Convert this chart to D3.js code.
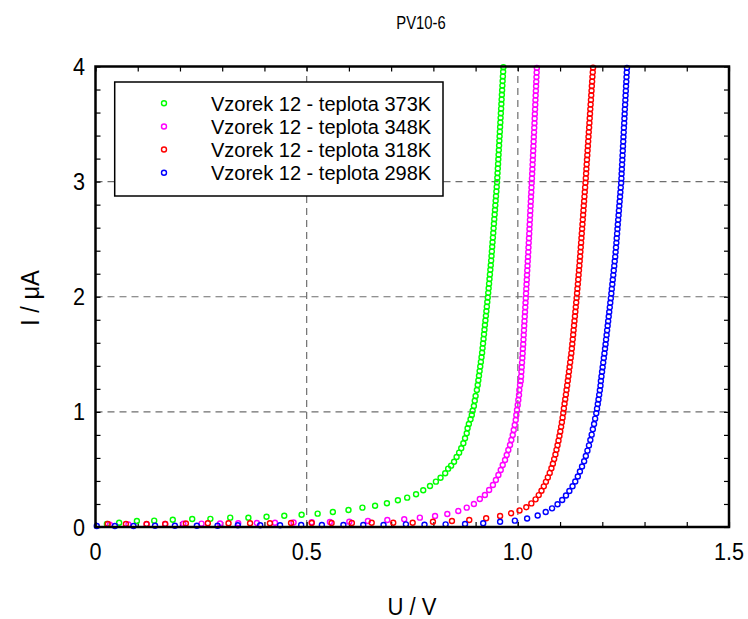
<!DOCTYPE html>
<html>
<head>
<meta charset="utf-8">
<script src="https://cdn.jsdelivr.net/npm/d3@7"></script>
<style>
  body { margin: 0; background: #fff; }
  text { font-family: "Liberation Sans", Arial, Helvetica, sans-serif; fill: #000; }
</style>
</head>
<body>
<svg id="chart" width="748" height="619"></svg>
<script>
// ---- chart text ----
const chartTitle = "PV10-6";
const xLabel = "U / V";
const yLabel = "I / \u03bcA";
const xTickValues = [0, 0.5, 1.0, 1.5];
const xTickLabels = ["0", "0.5", "1.0", "1.5"];
const yTickValues = [0, 1, 2, 3, 4];
const yTickLabels = ["0", "1", "2", "3", "4"];
const xGridValues = [0.5, 1.0];
const yGridValues = [1, 2, 3];
const seriesNames = [
  "Vzorek 12 - teplota 373K",
  "Vzorek 12 - teplota 348K",
  "Vzorek 12 - teplota 318K",
  "Vzorek 12 - teplota 298K"
];
const seriesColors = ["#00ff00", "#ff00ff", "#ff0000", "#0000ff"];

// ---- measured points [U (V), I (uA)] ----
const t373 = [
  [0.027,0.026],[0.056,0.037],[0.098,0.052],[0.139,0.055],[0.183,0.063],[0.229,0.070],[0.272,0.071],
  [0.319,0.081],[0.362,0.080],[0.405,0.089],[0.447,0.098],[0.488,0.107],[0.526,0.116],[0.562,0.130],
  [0.599,0.148],[0.632,0.168],[0.662,0.185],[0.690,0.206],[0.716,0.232],[0.738,0.255],[0.759,0.284],
  [0.776,0.319],[0.792,0.356],[0.806,0.394],[0.817,0.428],[0.828,0.467],[0.835,0.507],[0.842,0.533],
  [0.849,0.567],[0.855,0.608],[0.861,0.646],[0.866,0.684],[0.871,0.727],[0.875,0.771],[0.879,0.814],
  [0.881,0.858],[0.884,0.895],[0.888,0.936],[0.891,0.973],[0.893,1.010],[0.896,1.051],[0.898,1.097],
  [0.900,1.138],[0.903,1.190],[0.905,1.234],
  [0.9065,1.274],[0.908,1.314],[0.9095,1.354],[0.911,1.394],[0.9125,1.434],[0.914,1.474],[0.9154,1.514],
  [0.9165,1.554],[0.9176,1.594],[0.9188,1.634],[0.9199,1.674],[0.921,1.714],[0.9221,1.754],[0.9232,1.794],
  [0.9244,1.834],[0.9255,1.874],[0.9266,1.914],[0.9277,1.954],[0.9288,1.994],[0.9299,2.034],[0.9309,2.074],
  [0.9319,2.114],[0.9329,2.154],[0.9339,2.194],[0.9349,2.234],[0.9359,2.274],[0.9368,2.314],[0.9377,2.354],
  [0.9385,2.394],[0.9393,2.434],[0.9401,2.474],[0.941,2.514],[0.9418,2.554],[0.9426,2.594],[0.9434,2.634],
  [0.9442,2.674],[0.9451,2.714],[0.9459,2.754],[0.9467,2.794],[0.9475,2.834],[0.9483,2.874],[0.9492,2.914],
  [0.950,2.954],[0.9508,2.994],[0.9514,3.034],[0.952,3.074],[0.9526,3.114],[0.9532,3.154],[0.9538,3.194],
  [0.9544,3.234],[0.955,3.274],[0.9556,3.314],[0.9562,3.354],[0.9568,3.394],[0.9574,3.434],[0.958,3.474],
  [0.9586,3.514],[0.9592,3.554],[0.9598,3.594],[0.9604,3.634],[0.961,3.674],[0.9616,3.714],[0.9622,3.754],
  [0.9628,3.794],[0.9634,3.834],[0.964,3.874],[0.9646,3.914],[0.9652,3.954],[0.9658,3.994]
];

const t348 = [
  [0.034,0.020],[0.078,0.022],[0.121,0.024],[0.165,0.026],[0.208,0.028],[0.251,0.029],[0.295,0.031],
  [0.338,0.033],[0.382,0.035],[0.425,0.037],[0.469,0.039],[0.512,0.041],[0.555,0.043],[0.601,0.046],
  [0.645,0.052],[0.691,0.061],[0.731,0.067],[0.768,0.081],[0.804,0.096],[0.833,0.113],[0.859,0.139],
  [0.879,0.168],[0.896,0.200],[0.910,0.243],[0.922,0.278],[0.932,0.321],[0.941,0.365],[0.948,0.408],
  [0.954,0.452],[0.9595,0.495],[0.9642,0.539],[0.9697,0.582],[0.9737,0.626],[0.9775,0.669],[0.9815,0.712],
  [0.9846,0.756],[0.9879,0.799],[0.9903,0.843],[0.9927,0.886],[0.995,0.930],[0.9964,0.973],[0.998,1.016],
  [0.9997,1.060],[1.0012,1.103],[1.0028,1.147],[1.0035,1.190],[1.0052,1.234],[1.0069,1.268],
  [1.0077,1.308],[1.0084,1.348],[1.0092,1.388],[1.0099,1.428],[1.0107,1.468],[1.0114,1.508],[1.012,1.548],
  [1.0127,1.588],[1.0133,1.628],[1.0139,1.668],[1.0145,1.708],[1.0151,1.748],[1.0157,1.788],[1.0164,1.828],
  [1.017,1.868],[1.0176,1.908],[1.0182,1.948],[1.0188,1.988],[1.0194,2.028],[1.020,2.068],[1.0206,2.108],
  [1.0212,2.148],[1.0217,2.188],[1.0223,2.228],[1.0229,2.268],[1.0235,2.308],[1.0241,2.348],[1.0247,2.388],
  [1.0252,2.428],[1.0258,2.468],[1.0264,2.508],[1.027,2.548],[1.0275,2.588],[1.028,2.628],[1.0286,2.668],
  [1.0291,2.708],[1.0296,2.748],[1.0302,2.788],[1.0307,2.828],[1.0312,2.868],[1.0318,2.908],[1.0323,2.948],
  [1.0328,2.988],[1.0334,3.028],[1.0339,3.068],[1.0344,3.108],[1.0349,3.148],[1.0354,3.188],[1.0359,3.228],
  [1.0364,3.268],[1.0369,3.308],[1.0374,3.348],[1.0379,3.388],[1.0384,3.428],[1.0389,3.468],[1.0394,3.508],
  [1.0398,3.548],[1.0403,3.588],[1.0408,3.628],[1.0413,3.668],[1.0417,3.708],[1.0422,3.748],[1.0427,3.788],
  [1.0432,3.828],[1.0436,3.868],[1.0441,3.908],[1.0446,3.948],[1.045,3.988]
];

const t318 = [
  [0.029,0.026],[0.072,0.026],[0.121,0.026],[0.165,0.026],[0.214,0.030],[0.266,0.032],[0.315,0.032],
  [0.366,0.032],[0.413,0.032],[0.463,0.035],[0.512,0.035],[0.559,0.035],[0.607,0.035],[0.654,0.037],
  [0.705,0.037],[0.751,0.037],[0.799,0.046],[0.844,0.052],[0.885,0.061],[0.925,0.076],[0.958,0.096],
  [0.984,0.119],[1.004,0.143],[1.020,0.172],[1.032,0.205],[1.042,0.240],[1.0495,0.277],[1.056,0.315],
  [1.0615,0.353],[1.0665,0.392],[1.071,0.431],[1.0755,0.470],[1.0795,0.510],[1.083,0.550],[1.086,0.590],
  [1.089,0.630],[1.0915,0.670],[1.094,0.710],[1.0963,0.750],[1.0985,0.790],[1.1005,0.830],[1.1025,0.870],
  [1.1043,0.910],[1.106,0.950],[1.1075,0.990],[1.109,1.030],[1.1106,1.070],[1.1122,1.110],[1.1138,1.150],
  [1.1153,1.190],[1.1168,1.230],[1.1183,1.270],[1.1197,1.310],[1.1211,1.350],[1.1225,1.390],[1.1239,1.430],
  [1.1253,1.470],[1.1267,1.510],[1.1279,1.550],[1.1289,1.590],[1.130,1.630],[1.131,1.670],[1.132,1.710],
  [1.1331,1.750],[1.1341,1.790],[1.1352,1.830],[1.1362,1.870],[1.1372,1.910],[1.1382,1.950],[1.1392,1.990],
  [1.1402,2.030],[1.1411,2.070],[1.1421,2.110],[1.143,2.150],[1.1439,2.190],[1.1448,2.230],[1.1457,2.270],
  [1.1466,2.310],[1.1474,2.350],[1.1482,2.390],[1.149,2.430],[1.1498,2.470],[1.1506,2.510],[1.1514,2.550],
  [1.1522,2.590],[1.153,2.630],[1.1538,2.670],[1.1545,2.710],[1.1553,2.750],[1.1561,2.790],[1.1569,2.830],
  [1.1577,2.870],[1.1585,2.910],[1.1593,2.950],[1.1601,2.990],[1.1609,3.030],[1.1616,3.070],[1.1623,3.110],
  [1.163,3.150],[1.1637,3.190],[1.1645,3.230],[1.1652,3.270],[1.1659,3.310],[1.1666,3.350],[1.1673,3.390],
  [1.168,3.430],[1.1688,3.470],[1.1695,3.510],[1.1702,3.550],[1.1709,3.590],[1.1716,3.630],[1.1723,3.670],
  [1.1731,3.710],[1.1738,3.750],[1.1745,3.790],[1.1752,3.830],[1.1759,3.870],[1.1766,3.910],[1.1774,3.950],
  [1.1781,3.990]
];

const t298 = [
  [0.003,0.009],[0.046,0.009],[0.090,0.009],[0.141,0.011],[0.188,0.011],[0.240,0.011],[0.289,0.011],
  [0.337,0.015],[0.390,0.015],[0.437,0.015],[0.487,0.017],[0.536,0.017],[0.587,0.017],[0.634,0.017],
  [0.682,0.017],[0.735,0.023],[0.779,0.020],[0.829,0.023],[0.875,0.026],[0.918,0.032],
  [0.958,0.046],[0.993,0.055],[1.022,0.074],[1.047,0.100],[1.066,0.130],[1.081,0.162],[1.094,0.197],
  [1.105,0.235],[1.114,0.274],[1.122,0.313],[1.1295,0.354],[1.136,0.395],[1.142,0.439],[1.147,0.482],
  [1.152,0.526],[1.157,0.571],[1.161,0.617],[1.1648,0.663],[1.1684,0.709],[1.1717,0.756],[1.1748,0.802],
  [1.1776,0.849],[1.1805,0.895],[1.183,0.941],[1.1857,0.988],
  [1.1875,1.028],[1.1893,1.068],[1.191,1.108],[1.1926,1.148],[1.1942,1.188],[1.1957,1.228],[1.1966,1.268],
  [1.198,1.308],[1.1994,1.348],[1.2008,1.388],[1.2022,1.428],[1.2036,1.468],[1.205,1.508],[1.2064,1.548],
  [1.2077,1.588],[1.2089,1.628],[1.2102,1.668],[1.2114,1.708],[1.2127,1.748],[1.2139,1.788],[1.2152,1.828],
  [1.2164,1.868],[1.2177,1.908],[1.2189,1.948],[1.2202,1.988],[1.2214,2.028],[1.2225,2.068],[1.2237,2.108],
  [1.2248,2.148],[1.226,2.188],[1.2271,2.228],[1.2283,2.268],[1.2294,2.308],[1.2306,2.348],[1.2315,2.388],
  [1.2324,2.428],[1.2333,2.468],[1.2341,2.508],[1.235,2.548],[1.2359,2.588],[1.2367,2.628],[1.2376,2.668],
  [1.2385,2.708],[1.2393,2.748],[1.2402,2.788],[1.2411,2.828],[1.242,2.868],[1.2428,2.908],[1.2437,2.948],
  [1.2446,2.988],[1.2452,3.028],[1.2457,3.068],[1.2463,3.108],[1.2468,3.148],[1.2474,3.188],[1.2479,3.228],
  [1.2485,3.268],[1.249,3.308],[1.2496,3.348],[1.2501,3.388],[1.2507,3.428],[1.2512,3.468],[1.2518,3.508],
  [1.2523,3.548],[1.2529,3.588],[1.2534,3.628],[1.254,3.668],[1.2546,3.708],[1.2551,3.748],[1.2557,3.788],
  [1.2562,3.828],[1.2568,3.868],[1.2573,3.908],[1.2579,3.948],[1.2584,3.988]
];

const seriesData = [t373, t348, t318, t298];

// ---- layout ----
const svg = d3.select("#chart");
const plot = { left: 95.5, right: 729, top: 66.5, bottom: 527 };
const x = d3.scaleLinear().domain([0, 1.5]).range([plot.left, plot.right]);
const y = d3.scaleLinear().domain([0, 4]).range([plot.bottom, plot.top]);

svg.append("rect").attr("width", 748).attr("height", 619).attr("fill", "#fff");

// dashed grid
const grid = svg.append("g")
  .attr("stroke", "#6e6e6e").attr("stroke-width", 1.2).attr("stroke-dasharray", "7,5");
grid.selectAll("line.vx").data(xGridValues).join("line").attr("class", "vx")
  .attr("x1", d => x(d)).attr("x2", d => x(d))
  .attr("y1", plot.bottom).attr("y2", plot.top);
grid.selectAll("line.hy").data(yGridValues).join("line").attr("class", "hy")
  .attr("x1", plot.left).attr("x2", plot.right)
  .attr("y1", d => y(d)).attr("y2", d => y(d));

// inward minor ticks on all four sides
const xMinor = d3.range(0, 16).map(i => i / 10);
const yMinor = d3.range(0, 21).map(i => i / 5);
function tickStyle(g) {
  g.select(".domain").remove();
  g.selectAll(".tick line").attr("stroke", "#000").attr("stroke-width", 1.2);
}
svg.append("g").attr("transform", `translate(0,${plot.bottom})`)
  .call(d3.axisBottom(x).tickValues(xMinor).tickSize(-5).tickFormat("")).call(tickStyle);
svg.append("g").attr("transform", `translate(0,${plot.top})`)
  .call(d3.axisTop(x).tickValues(xMinor).tickSize(-5).tickFormat("")).call(tickStyle);
svg.append("g").attr("transform", `translate(${plot.left},0)`)
  .call(d3.axisLeft(y).tickValues(yMinor).tickSize(-5).tickFormat("")).call(tickStyle);
svg.append("g").attr("transform", `translate(${plot.right},0)`)
  .call(d3.axisRight(y).tickValues(yMinor).tickSize(-5).tickFormat("")).call(tickStyle);

// data markers (open circles), only centres inside the plotted range
seriesData.forEach((pts, i) => {
  svg.append("g")
    .attr("fill", "none").attr("stroke", seriesColors[i]).attr("stroke-width", 1.4)
    .selectAll("circle")
    .data(pts.filter(p => p[0] >= 0 && p[0] <= 1.5 && p[1] >= 0 && p[1] <= 4))
    .join("circle")
    .attr("cx", d => x(d[0])).attr("cy", d => y(d[1])).attr("r", 2.5);
});

// plot frame
svg.append("rect")
  .attr("x", plot.left).attr("y", plot.top)
  .attr("width", plot.right - plot.left).attr("height", plot.bottom - plot.top)
  .attr("fill", "none").attr("stroke", "#000").attr("stroke-width", 2.5);

// helper: place a horizontally condensed text
function label(parent, tx, ty, str, size, anchor, sx, rotate) {
  const g = parent.append("g")
    .attr("transform", `translate(${tx},${ty})` + (rotate ? ` rotate(${rotate})` : ""));
  return g.append("text")
    .attr("transform", `scale(${sx},1)`)
    .attr("text-anchor", anchor)
    .attr("font-size", size)
    .text(str);
}

// tick labels
const labels = svg.append("g");
xTickValues.forEach((v, i) => label(labels, x(v), 560, xTickLabels[i], 24, "middle", 0.9));
yTickValues.forEach((v, i) => label(labels, 85, y(v) + 8.5, yTickLabels[i], 24, "end", 0.9));

// title and axis titles
label(svg, 421, 29, chartTitle, 19, "middle", 0.78);
label(svg, 412, 615, xLabel, 24, "middle", 0.92);
label(svg, 39, 298, yLabel, 25, "middle", 0.95, -90);

// legend
const legend = svg.append("g");
legend.append("rect")
  .attr("x", 114.7).attr("y", 82).attr("width", 328.3).attr("height", 114)
  .attr("fill", "#fff").attr("stroke", "#000").attr("stroke-width", 1.5);
const rowY = d3.scaleLinear().domain([0, 3]).range([103.3, 172.7]);
seriesNames.forEach((name, i) => {
  legend.append("circle")
    .attr("cx", 164).attr("cy", rowY(i)).attr("r", 2.5)
    .attr("fill", "none").attr("stroke", seriesColors[i]).attr("stroke-width", 1.4);
  label(legend, 211, rowY(i) + 7.4, name, 20, "start", 1.0);
});
</script>
</body>
</html>
